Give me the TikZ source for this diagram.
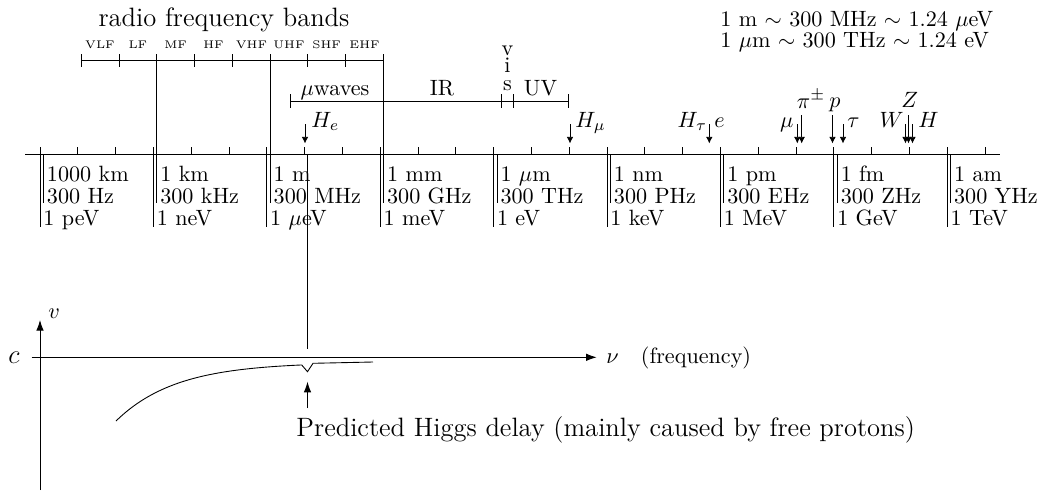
\documentclass[tikz,border=0pt]{standalone}
\usetikzlibrary{arrows.meta}
\begin{document}
\begin{tikzpicture}[x=0.4517pt,y=-0.4517pt,
  pmark/.style={-{Latex[length=3pt,width=3pt]}},
  axarrow/.style={-{Latex[length=4.8pt,width=3.4pt]}},
  txt/.style={inner sep=0pt, anchor=base west},
  txtr/.style={inner sep=0pt, anchor=base east},
  txtc/.style={inner sep=0pt, anchor=base}]
\useasboundingbox (0,0) rectangle (1044,490);

% ---------------- main axis ----------------
\draw (25,154) -- (1000,154);
% energy decade lines
\foreach \k in {0,...,8} \draw ({40+113.4*\k},147) -- ({40+113.4*\k},227);
% minor ticks
\foreach \k in {0,...,7} {
  \draw ({77.8+113.4*\k},147) -- ({77.8+113.4*\k},154);
  \draw ({115.6+113.4*\k},147) -- ({115.6+113.4*\k},154);
}
\draw (985,147) -- (985,154);
% wavelength / frequency lines
\foreach \k in {0,4,5,6,7,8} \draw ({43.5+113.4*\k},154) -- ({43.5+113.4*\k},203);
\foreach \x in {156.9,270.3,383.7} \draw (\x,54) -- (\x,203);

% labels below the axis
\foreach \k/\a/\b/\c in {0/1000 km/300 Hz/1 peV, 1/1 km/300 kHz/1 neV,
   2/1 m/300 MHz/1 $\mu$eV, 3/1 mm/300 GHz/1 meV, 4/1 $\mu$m/300 THz/1 eV,
   5/1 nm/300 PHz/1 keV, 6/1 pm/300 EHz/1 MeV, 7/1 fm/300 ZHz/1 GeV,
   8/1 am/300 YHz/1 TeV} {
  \node[txt] (wl\k) at ({46.5+113.4*\k},181.7) {\a};
  \node[txt] (fr\k) at ({46.5+113.4*\k},203.5) {\b};
  \node[txt] (en\k) at ({43+113.4*\k},225.5) {\c};
}

% ---------------- radio bands ----------------
\node[txtc, font=\large] (title) at (224,26) {radio frequency bands};
\draw (81,60.5) -- (383.7,60.5);
\foreach \x in {81,119,156.9,194.7,232.3,270.3,307.7,345.7,383.7} \draw (\x,54) -- (\x,67);
\foreach \n/\x in {VLF/100,LF/137.9,MF/175.7,HF/213.5,VHF/251.5,UHF/289,SHF/326.7,EHF/364.5}
  \node[txtc, font=\tiny] (band\n) at (\x,48.3) {\n};

% ---------------- microwave / IR / vis / UV bar ----------------
\draw (290,101) -- (568.3,101);
\foreach \x in {290,501.7,513.3,568.3} \draw (\x,94) -- (\x,108);
\node[txtc] (mw) at (335,95.5) {$\mu$waves};
\node[txtc] (ir) at (442,95.5) {IR};
\node[txtc] (uv) at (540.5,95.5) {UV};
\node[inner sep=0pt, anchor=south, align=center] (vis) at (507.5,91) {v\\[-4.1pt]i\\[-4.1pt]s};

% ---------------- conversion note ----------------
\node[inner sep=0pt, anchor=south west, align=left] (conv) at (720,52.6)
  {1 m $\sim$ 300 MHz $\sim$ 1.24 $\mu$eV\\[-2.2pt]1 $\mu$m $\sim$ 300 THz $\sim$ 1.24 eV};

% ---------------- particle markers ----------------
\foreach \x in {305,570,709.3,797.3,843,905.5,912.5} \draw[pmark] (\x,124) -- (\x,143.5);
\foreach \x in {801.7,832.5,908.5} \draw[pmark] (\x,115) -- (\x,143.5);
\node[txt] (He) at (311,127) {$H_e$};
\node[txt] (Hmu) at (575,127) {$H_\mu$};
\node[txtr] (Htau) at (707.5,127) {$H_\tau$};
\node[txt] (el) at (714,127) {$e$};
\node[txtr] (mu) at (794,127) {$\mu$};
\node[txt] (pi) at (796.5,108) {$\pi^\pm$};
\node[txt] (pr) at (829,107) {$p$};
\node[txt] (tau) at (847,127) {$\tau$};
\node[txtr] (W) at (904,127) {$W$};
\node[txtc] (Z) at (909.7,107) {$Z$};
\node[txt] (H) at (918,127) {$H$};

% ---------------- lower velocity graph ----------------
\coordinate (vbot) at (40,490);
\coordinate (vtop) at (40,320);
\coordinate (cleft) at (31.7,357.3);
\coordinate (cright) at (596.7,357.3);
\draw[axarrow] (vbot) -- (vtop);
\draw[axarrow] (cleft) -- (cright);
\node[txt] (vlab) at (48,318) {$v$};
\node[txtc, font=\large] (clab) at (14,363) {$c$};
\node[txt] (nulab) at (606,363.3) {$\nu$\quad(frequency)};

\coordinate (linetop) at (307.7,154);
\coordinate (linebot) at (307.7,349.3);
\draw (linetop) -- (linebot);

\draw plot[domain=116:301.7, samples=80] (\x, {362.3+58.7*exp(-(\x-116)/60)})
   -- (307.5,371.7) -- (313,363.3) -- (373,362);

\node[txt, font=\large] (pred) at (296,436.7) {Predicted Higgs delay (mainly caused by free protons)};
\coordinate (arrbot) at (307.5,408);
\coordinate (arrtop) at (307.5,381.7);
\draw[axarrow] (arrbot) -- (arrtop);
\end{tikzpicture}
\end{document}
